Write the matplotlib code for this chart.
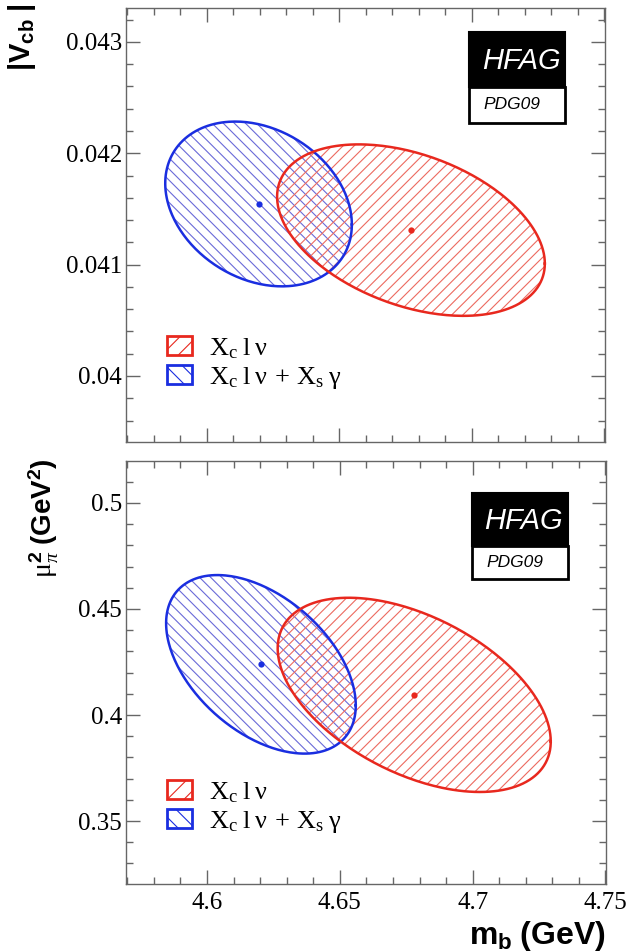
import numpy as np
import matplotlib
matplotlib.use("Agg")
import matplotlib.pyplot as plt
from matplotlib.patches import Polygon, Rectangle, Patch
from matplotlib.ticker import MultipleLocator, FixedLocator

plt.rcParams['font.family'] = ['Liberation Serif', 'DejaVu Serif']
plt.rcParams['mathtext.fontset'] = 'custom'
plt.rcParams['mathtext.rm'] = 'Liberation Serif'
plt.rcParams['mathtext.it'] = 'Liberation Serif:italic'
plt.rcParams['mathtext.bf'] = 'Liberation Sans:bold'
plt.rcParams['hatch.linewidth'] = 0.8

# ---------------- data ----------------
series_labels = [r'$\mathrm{X_c\;l\;\nu}$', r'$\mathrm{X_c\;l\;\nu\,\:+\:\,X_s\;\gamma}$']
line_colors = ['#e8281e', '#1a2ee0']
hatch_colors = ['#ec6a60', '#6a6ad8']
hatches = ['///', '\\\\\\']

# top panel: mb vs |Vcb|  (center, semi-extent x, semi-extent y, correlation)
vcb_cx = [4.677, 4.6195]
vcb_cy = [0.04131, 0.041545]
vcb_ax = [0.0505, 0.0352]
vcb_ay = [0.00077, 0.00074]
vcb_rho = [-0.39, -0.25]

# bottom panel: mb vs mu_pi^2
mupi_cx = [4.678, 4.6203]
mupi_cy = [0.4095, 0.4239]
mupi_ax = [0.0514, 0.0357]
mupi_ay = [0.0458, 0.0421]
mupi_rho = [-0.48, -0.46]

x_ticks = [4.6, 4.65, 4.7, 4.75]
x_ticklabels = ['4.6', '4.65', '4.7', '4.75']
vcb_ticks = [0.040, 0.041, 0.042, 0.043]
vcb_ticklabels = ['0.04', '0.041', '0.042', '0.043']
mupi_ticks = [0.35, 0.40, 0.45, 0.50]
mupi_ticklabels = ['0.35', '0.4', '0.45', '0.5']

W, H = 633, 952
fig = plt.figure(figsize=(W / 100, H / 100), dpi=100)

ax1 = fig.add_axes([126 / W, 1 - 442 / H, 479 / W, 434 / H])
ax2 = fig.add_axes([126 / W, 1 - 884 / H, 480 / W, 423 / H])

spine_col = '#666666'


def ellipse_pts(cx, cy, a, b, rho, n=300):
    t = np.linspace(0, 2 * np.pi, n)
    x = cx + a * np.cos(t)
    y = cy + b * (rho * np.cos(t) + np.sqrt(1 - rho ** 2) * np.sin(t))
    return np.column_stack([x, y])


def draw_panel(ax, cxs, cys, axs, ays, rhos):
    for i in [1, 0]:
        pts = ellipse_pts(cxs[i], cys[i], axs[i], ays[i], rhos[i])
        ax.add_patch(Polygon(pts, closed=True, facecolor='none',
                             edgecolor=hatch_colors[i], hatch=hatches[i], lw=0))
    for i in [1, 0]:
        pts = ellipse_pts(cxs[i], cys[i], axs[i], ays[i], rhos[i])
        ax.plot(np.append(pts[:, 0], pts[0, 0]), np.append(pts[:, 1], pts[0, 1]),
                color=line_colors[i], lw=1.8)
        ax.plot([cxs[i]], [cys[i]], 'o', color=line_colors[i], ms=4.5, mec='none')


def style_axes(ax, yticks, yticklabels, ymin_step, show_xlabels):
    ax.set_xlim(4.5695, 4.7502)
    ax.xaxis.set_major_locator(FixedLocator(x_ticks))
    ax.xaxis.set_minor_locator(MultipleLocator(0.01))
    ax.yaxis.set_major_locator(FixedLocator(yticks))
    ax.set_yticklabels(yticklabels)
    ax.yaxis.set_minor_locator(MultipleLocator(ymin_step))
    if show_xlabels:
        ax.set_xticklabels(x_ticklabels)
    else:
        ax.set_xticklabels([])
    ax.tick_params(which='both', direction='in', top=True, right=True,
                   color=spine_col, width=1)
    ax.tick_params(which='major', length=10, labelsize=18, pad=3)
    ax.tick_params(which='minor', length=5)
    ax.tick_params(axis='x', which='major', pad=6)
    for s in ax.spines.values():
        s.set_color(spine_col)
        s.set_linewidth(1)


def hfag_box(ax, x0, x1, y0, ymid, y1):
    ax.add_patch(Rectangle((x0, ymid), x1 - x0, y1 - ymid, transform=ax.transAxes,
                           facecolor='black', edgecolor='black', lw=1.5, zorder=5))
    ax.add_patch(Rectangle((x0, y0), x1 - x0, ymid - y0, transform=ax.transAxes,
                           facecolor='white', edgecolor='black', lw=2, zorder=6))
    ax.text((x0 + x1) / 2 + 0.008, (ymid + y1) / 2 - 0.003, 'HFAG', transform=ax.transAxes,
            family='Liberation Sans', style='italic', color='white', fontsize=21,
            ha='center', va='center', zorder=7)
    ax.text((x0 + x1) / 2 - 0.01, (y0 + ymid) / 2, 'PDG09', transform=ax.transAxes,
            family='Liberation Sans', style='italic', color='black', fontsize=12.5,
            ha='center', va='center', zorder=7)


def add_legend(ax, anchor):
    handles = [Patch(facecolor='white', edgecolor=line_colors[i], hatch=hatches[i][:1] * 2,
                     lw=2) for i in range(2)]
    ax.legend(handles, series_labels, loc='upper left', bbox_to_anchor=anchor,
              frameon=False, fontsize=19, handlelength=0.95, handleheight=0.75,
              handletextpad=0.65, labelspacing=0.15, borderpad=0, borderaxespad=0)


draw_panel(ax1, vcb_cx, vcb_cy, vcb_ax, vcb_ay, vcb_rho)
ax1.set_ylim(0.039407, 0.043305)
style_axes(ax1, vcb_ticks, vcb_ticklabels, 0.0002, False)
hfag_box(ax1, 0.716, 0.917, 0.735, 0.818, 0.945)
add_legend(ax1, ((167 - 126) / 479, 1 - (336 - 8) / 434))

draw_panel(ax2, mupi_cx, mupi_cy, mupi_ax, mupi_ay, mupi_rho)
ax2.set_ylim(0.3203, 0.5198)
style_axes(ax2, mupi_ticks, mupi_ticklabels, 0.01, True)
hfag_box(ax2, 0.721, 0.921, 0.721, 0.799, 0.924)
add_legend(ax2, ((167 - 126) / 480, 1 - (780 - 461) / 423))

fig.text(22 / W, 1 - 4 / H, r'$\mathbf{|V_{cb}\ |}$', rotation=90, ha='center', va='top',
         fontsize=21)
fig.text(44 / W, 1 - 458 / H, r'$\mathrm{\mu}_{\pi}^{\mathbf{2}}\ \mathbf{(GeV^{2})}$',
         rotation=90, ha='center', va='top', fontsize=20)
fig.text(606 / W, 1 - 936 / H, r'$\mathbf{m_b\ (GeV)}$', ha='right', va='center',
         fontsize=23)

fig.savefig('out.png', dpi=100)
